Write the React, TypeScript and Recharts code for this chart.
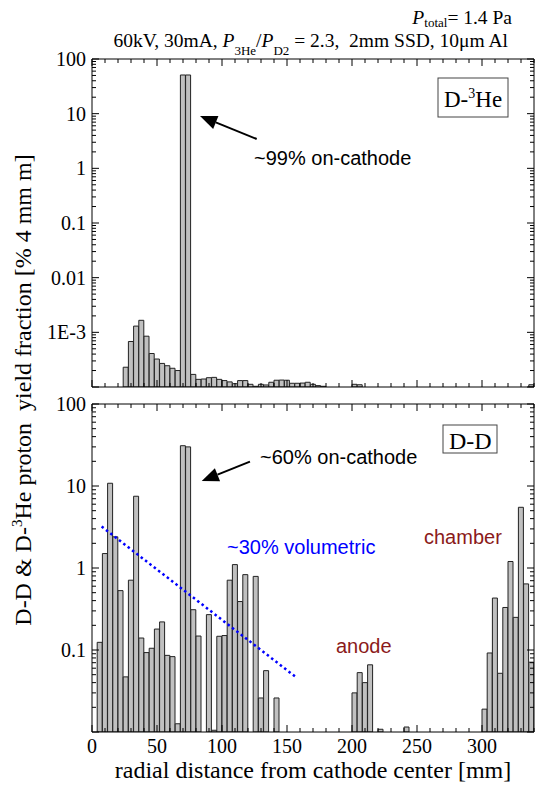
import React from 'react';
import { BarChart, Bar, XAxis, YAxis, ReferenceLine } from 'recharts';

const SERIF = "'Liberation Serif', 'Times New Roman', serif";
const SANS = "'Liberation Sans', Arial, sans-serif";
const BIN = 4; // mm per histogram bin

// D-3He panel: left bin edge [mm] and proton yield fraction [%]
const dheEdges = [
  24, 28, 32, 36, 40, 44, 48, 52, 56, 60, 64, 68, 72, 76, 80, 84, 88, 92, 96, 100,
  104, 108, 112, 116, 120, 124, 128, 132, 136, 140, 144, 148, 152, 156, 160, 164, 168, 172, 176,
  200, 204, 336,
];
const dheYield = [
  2.3e-4, 6.8e-4, 1.3e-3, 1.66e-3, 8.5e-4, 4.1e-4, 3.25e-4, 2.7e-4, 2.45e-4, 2.2e-4, 2.0e-4, 51, 51,
  1.7e-4, 1.38e-4, 1.4e-4, 1.48e-4, 1.5e-4, 1.38e-4, 1.31e-4,
  1.24e-4, 1.15e-4, 1.31e-4, 1.31e-4, 1.12e-4, 1.03e-4, 1.12e-4, 1.09e-4, 1.22e-4, 1.33e-4, 1.34e-4,
  1.33e-4, 1.17e-4, 1.17e-4, 1.18e-4, 1.22e-4, 1.12e-4, 1.06e-4, 1.03e-4,
  1.12e-4, 1.1e-4, 1.1e-4,
];

// D-D panel
const ddEdges = [
  4, 8, 12, 16, 20, 24, 28, 32, 36, 40, 44, 48, 52, 56, 60, 64, 68, 72, 76, 80,
  88, 92, 96, 100, 104, 108, 112, 116, 124, 128, 132, 140,
  200, 204, 208, 212, 220, 240,
  300, 304, 308, 312, 316, 320, 324, 328, 332, 336,
];
const ddYield = [
  0.124, 1.5, 10.8, 2.4, 0.53, 0.047, 0.71, 7.5, 0.14, 0.093, 0.105, 0.18, 0.22, 0.086, 0.083, 0.0126, 31, 30, 0.31, 0.148,
  0.27, 0.0105, 0.147, 0.15, 0.71, 1.1, 0.39, 0.83, 0.79, 0.026, 0.056, 0.026,
  0.03, 0.053, 0.04, 0.066, 0.0108, 0.0115,
  0.019, 0.092, 0.43, 0.052, 0.33, 1.2, 0.25, 5.5, 0.64, 0.071,
];

const xTicks = Array.from({ length: 35 }, (_, i) => i * 10);
const xLabelled = [0, 50, 100, 150, 200, 250, 300];

const dheDecades = [1e-4, 1e-3, 0.01, 0.1, 1, 10, 100];
const dheDecadeLabels = ['', '1E-3', '0.01', '0.1', '1', '10', '100'];
const ddDecades = [0.01, 0.1, 1, 10, 100];
const ddDecadeLabels = ['', '0.1', '1', '10', '100'];

const volumetricTrend = [{ x: 7.4, y: 3.2 }, { x: 157.4, y: 0.046 }];
const dheArrow = [{ x: 126.7, y: 3.44 }, { x: 83.1, y: 9.06 }];
const ddArrow = [{ x: 121.5, y: 19.8 }, { x: 84.4, y: 11.5 }];

const toRows = (edges: number[], vals: number[]) => edges.map((e, i) => ({ x: e + BIN / 2, y: vals[i] }));
const dheData = toRows(dheEdges, dheYield);
const ddData = toRows(ddEdges, ddYield);

const logTicks = (decades: number[]) =>
  decades.flatMap((d, i) => (i === decades.length - 1 ? [d] : [1, 2, 3, 4, 5, 6, 7, 8, 9].map((k) => k * d)));

const makeXTick = (side: 'top' | 'bottom', labels: boolean) => (props: any) => {
  const { x, y, payload } = props;
  const v = payload.value;
  const major = v % 50 === 0;
  const len = major ? 7 : 4;
  const dir = side === 'bottom' ? -1 : 1;
  return (
    <g>
      <line x1={x} y1={y} x2={x} y2={y + dir * len} stroke="#000" />
      {labels && xLabelled.includes(v) && (
        <text x={x} y={y + 21} textAnchor="middle" fontFamily={SERIF} fontSize={20} fill="#000">
          {v}
        </text>
      )}
    </g>
  );
};

const makeYTick = (side: 'left' | 'right', decades: number[], labels: string[]) => (props: any) => {
  const { x, y, payload } = props;
  const v = payload.value;
  const i = decades.findIndex((d) => Math.abs(v / d - 1) < 1e-6);
  const len = i >= 0 ? 7 : 4;
  const dir = side === 'left' ? 1 : -1;
  return (
    <g>
      <line x1={x} y1={y} x2={x + dir * len} y2={y} stroke="#000" />
      {side === 'left' && i >= 0 && labels[i] && (
        <text x={x - 6} y={y + 7} textAnchor="end" fontFamily={SERIF} fontSize={20} fill="#000">
          {labels[i]}
        </text>
      )}
    </g>
  );
};

const Arrow = (p: any) => {
  const { x1, y1, x2, y2 } = p;
  const a = Math.atan2(y2 - y1, x2 - x1);
  const L = 17;
  const W = 7;
  const bx = x2 - L * Math.cos(a);
  const by = y2 - L * Math.sin(a);
  const nx = -Math.sin(a) * W;
  const ny = Math.cos(a) * W;
  return (
    <g>
      <line x1={x1} y1={y1} x2={bx} y2={by} stroke="#000" strokeWidth={2} />
      <polygon points={`${x2},${y2} ${bx + nx},${by + ny} ${bx - nx},${by - ny}`} fill="#000" />
    </g>
  );
};

const Panel = ({ data, decades, labels, topH, bottomH, height, xLabels, children }: any) => {
  const yTicks = logTicks(decades);
  const domain = [decades[0], decades[decades.length - 1]];
  return (
    <BarChart width={541} height={height} data={data} margin={{ top: 0, right: 0, bottom: 0, left: 0 }} barCategoryGap={0} barGap={0}>
      <Bar dataKey="y" xAxisId="b" yAxisId="l" fill="#c0c0c0" stroke="#222" strokeWidth={1} isAnimationActive={false} />
      {children}
      <XAxis xAxisId="b" dataKey="x" type="number" domain={[0, 340]} allowDataOverflow ticks={xTicks} interval={0}
        height={bottomH} tickSize={0} tickMargin={0} tickLine={false} axisLine={{ stroke: '#000' }} tick={makeXTick('bottom', xLabels)} />
      <XAxis xAxisId="t" orientation="top" dataKey="x" type="number" domain={[0, 340]} allowDataOverflow ticks={xTicks} interval={0}
        height={topH} tickSize={0} tickMargin={0} tickLine={false} axisLine={{ stroke: '#000' }} tick={makeXTick('top', false)} />
      <YAxis yAxisId="l" type="number" scale="log" domain={domain} allowDataOverflow ticks={yTicks} interval={0} width={92}
        tickSize={0} tickMargin={0} tickLine={false} axisLine={{ stroke: '#000' }} tick={makeYTick('left', decades, labels)} />
      <YAxis yAxisId="r" orientation="right" type="number" scale="log" domain={domain} allowDataOverflow ticks={yTicks} interval={0} width={7}
        tickSize={0} tickMargin={0} tickLine={false} axisLine={{ stroke: '#000' }} tick={makeYTick('right', decades, labels)} />
    </BarChart>
  );
};

export default function App() {
  return (
    <div style={{ position: 'absolute', left: 0, top: 0, width: 541, height: 785, background: '#fff' }}>
      <div style={{ position: 'absolute', left: 0, top: 0 }}>
        <Panel data={dheData} decades={dheDecades} labels={dheDecadeLabels} topH={59} bottomH={13} height={400} xLabels={false}>
          <ReferenceLine xAxisId="b" yAxisId="l" segment={dheArrow} ifOverflow="visible" shape={Arrow} />
        </Panel>
      </div>
      <div style={{ position: 'absolute', left: 0, top: 390 }}>
        <Panel data={ddData} decades={ddDecades} labels={ddDecadeLabels} topH={14} bottomH={53} height={395} xLabels={true}>
          <ReferenceLine xAxisId="b" yAxisId="l" segment={volumetricTrend} ifOverflow="visible"
            stroke="#0000ff" strokeWidth={2.5} strokeDasharray="2.5 3" />
          <ReferenceLine xAxisId="b" yAxisId="l" segment={ddArrow} ifOverflow="visible" shape={Arrow} />
        </Panel>
      </div>
      <svg width={541} height={785} style={{ position: 'absolute', left: 0, top: 0, pointerEvents: 'none' }}>
        <text x={512} y={24} textAnchor="end" fontFamily={SERIF} fontSize={19.5} fill="#000">
          <tspan fontStyle="italic">P</tspan>
          <tspan fontSize={13} dy={3}>total</tspan>
          <tspan dy={-3}>= 1.4 Pa</tspan>
        </text>
        <text x={508} y={47} textAnchor="end" fontFamily={SERIF} fontSize={19.5} fill="#000" xmlSpace="preserve">
          <tspan>60kV, 30mA, </tspan>
          <tspan fontStyle="italic">P</tspan>
          <tspan fontSize={13} dy={8}>3He</tspan>
          <tspan dy={-8}>/</tspan>
          <tspan fontStyle="italic">P</tspan>
          <tspan fontSize={13} dy={8}>D2</tspan>
          <tspan dy={-8}> = 2.3,  2mm SSD, 10μm Al</tspan>
        </text>

        <text transform="translate(31,390) rotate(-90)" textAnchor="middle" fontFamily={SERIF} fontSize={24} fill="#000" xmlSpace="preserve">
          <tspan>D-D &amp; D-</tspan>
          <tspan fontSize={15} dy={-9}>3</tspan>
          <tspan dy={9}>He proton  yield fraction [% 4 mm m]</tspan>
        </text>
        <text x={313} y={778} textAnchor="middle" fontFamily={SERIF} fontSize={24} fill="#000">
          radial distance from cathode center [mm]
        </text>

        <rect x={438} y={78} width={70} height={39} fill="#fff" stroke="#444" strokeWidth={1} />
        <text x={444} y={107} fontFamily={SERIF} fontSize={23} fill="#000">
          <tspan>D-</tspan>
          <tspan fontSize={14} dy={-9}>3</tspan>
          <tspan dy={9}>He</tspan>
        </text>
        <rect x={443} y={425} width={54} height={28} fill="#fff" stroke="#444" strokeWidth={1} />
        <text x={449} y={449} fontFamily={SERIF} fontSize={24} fill="#000">D-D</text>

        <text x={254} y={165} fontFamily={SANS} fontSize={20} fill="#000">~99% on-cathode</text>
        <text x={260} y={464} fontFamily={SANS} fontSize={20} fill="#000">~60% on-cathode</text>
        <text x={227} y={554} fontFamily={SANS} fontSize={20} fill="#0000ff">~30% volumetric</text>
        <text x={424} y={544} fontFamily={SANS} fontSize={20} fill="#8b1a1a">chamber</text>
        <text x={336} y={653} fontFamily={SANS} fontSize={20} fill="#8b1a1a">anode</text>
      </svg>
    </div>
  );
}
